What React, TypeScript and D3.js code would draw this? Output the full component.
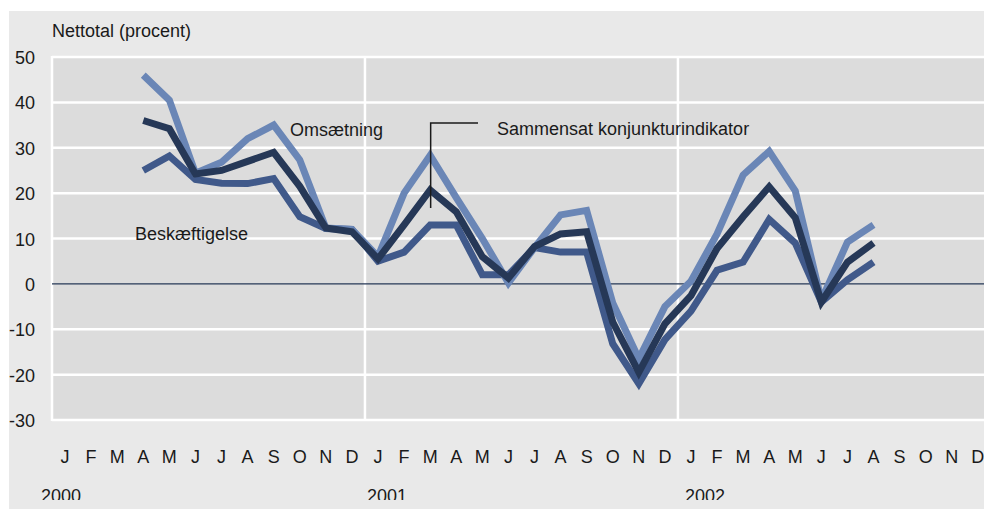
import React from "react";
import * as d3 from "d3";

const months = ["J","F","M","A","M","J","J","A","S","O","N","D"];
const years = ["2000", "2001", "2002"];
const yTicks = [50, 40, 30, 20, 10, 0, -10, -20, -30];
const startIndex = 3; // April 2000

const omsaetning = [46, 40.5, 24.4, 26.8, 32, 35, 27.3, 12.3, 12, 6, 20, 28.3, 19, 10, 0.2, 8, 15.2, 16.2, -4.2, -16.5, -5, 0.6, 11, 24, 29.2, 20.5, -3.6, 9.2, 13];
const sammensat = [36, 34.2, 24.2, 25, 27, 29, 21.5, 12.3, 11.5, 5.5, 13, 20.7, 15.9, 6, 1.3, 8.2, 11, 11.5, -8.4, -19.5, -8.8, -2.6, 7.8, 14.8, 21.4, 14.6, -4, 4.8, 9];
const beskaeftigelse = [25, 28.2, 23, 22.2, 22.1, 23.2, 14.8, 12.2, 12, 5, 7, 13, 13, 2, 2, 8, 7, 7, -13.2, -22, -12.3, -6, 3, 4.8, 14.2, 9, -4, 0.9, 4.8];

const W = 984, H = 509;
const left = 52, top = 57, bottom = 420, monthW = 26.08;
const font = "'Liberation Sans', Arial, sans-serif";
const fs = 18;
const yearShift = [-11, 2, 7];

export default function App() {
  const allMonths = d3.range(36);
  const x = d3.scaleBand<number>().domain(allMonths).range([left, left + 36 * monthW]);
  const xc = (i: number) => (x(i) as number) + x.bandwidth() / 2;
  const y = d3.scaleLinear().domain([-30, 50]).range([bottom, top]);
  const line = d3.line<number>().x((_, i) => xc(i + startIndex)).y((d) => y(d)).curve(d3.curveLinear);

  const series = [
    { data: beskaeftigelse, color: "#40598a" },
    { data: omsaetning, color: "#6a86b6" },
    { data: sammensat, color: "#263857" },
  ];

  return (
    <svg width={W} height={H} style={{ position: "absolute", left: 0, top: 0 }}>
      <defs>
        <clipPath id="clipAll"><rect x={0} y={0} width={W} height={500} /></clipPath>
      </defs>
      <rect x={9} y={11} width={W - 9} height={H - 11} fill="#e9e9e9" />
      <rect x={left} y={top} width={W - left} height={bottom - top} fill="#dcdcdc" />
      {yTicks.filter((t) => t !== 0).map((t) => (
        <line key={t} x1={left} x2={W} y1={y(t)} y2={y(t)} stroke="#ffffff" strokeWidth={2.5} />
      ))}
      <line x1={left} x2={left} y1={top - 1} y2={bottom + 1} stroke="#ffffff" strokeWidth={2.5} />
      {[12, 24].map((i) => (
        <line key={i} x1={x(i) as number} x2={x(i) as number} y1={top} y2={bottom} stroke="#ffffff" strokeWidth={2.5} />
      ))}
      <line x1={left} x2={W} y1={y(0)} y2={y(0)} stroke="#263857" strokeWidth={1.2} />
      {series.map((s, k) => (
        <path key={k} d={line(s.data) || ""} fill="none" stroke={s.color} strokeWidth={7} strokeLinejoin="miter" strokeMiterlimit={3} />
      ))}
      {yTicks.map((t) => (
        <text key={t} x={35} y={y(t) + 7} textAnchor="end" fontFamily={font} fontSize={fs} fill="#1a1a1a">{t}</text>
      ))}
      <text x={52} y={37} fontFamily={font} fontSize={fs} fill="#1a1a1a">Nettotal (procent)</text>
      {allMonths.map((i) => (
        <text key={i} x={xc(i)} y={463} textAnchor="middle" fontFamily={font} fontSize={fs} fill="#1a1a1a">{months[i % 12]}</text>
      ))}
      <g clipPath="url(#clipAll)">
        {years.map((yr, k) => (
          <text key={yr} x={(x(k * 12) as number) + yearShift[k]} y={502} fontFamily={font} fontSize={fs} fill="#1a1a1a">{yr}</text>
        ))}
      </g>
      <text x={290} y={136} fontFamily={font} fontSize={fs} fill="#1a1a1a">Omsætning</text>
      <text x={135} y={240} fontFamily={font} fontSize={fs} fill="#1a1a1a">Beskæftigelse</text>
      <path d={`M${xc(14) + 0.5},208 V123 H478`} fill="none" stroke="#1a1a1a" strokeWidth={1.5} />
      <text x={497} y={135} fontFamily={font} fontSize={fs} fill="#1a1a1a">Sammensat konjunkturindikator</text>
    </svg>
  );
}
